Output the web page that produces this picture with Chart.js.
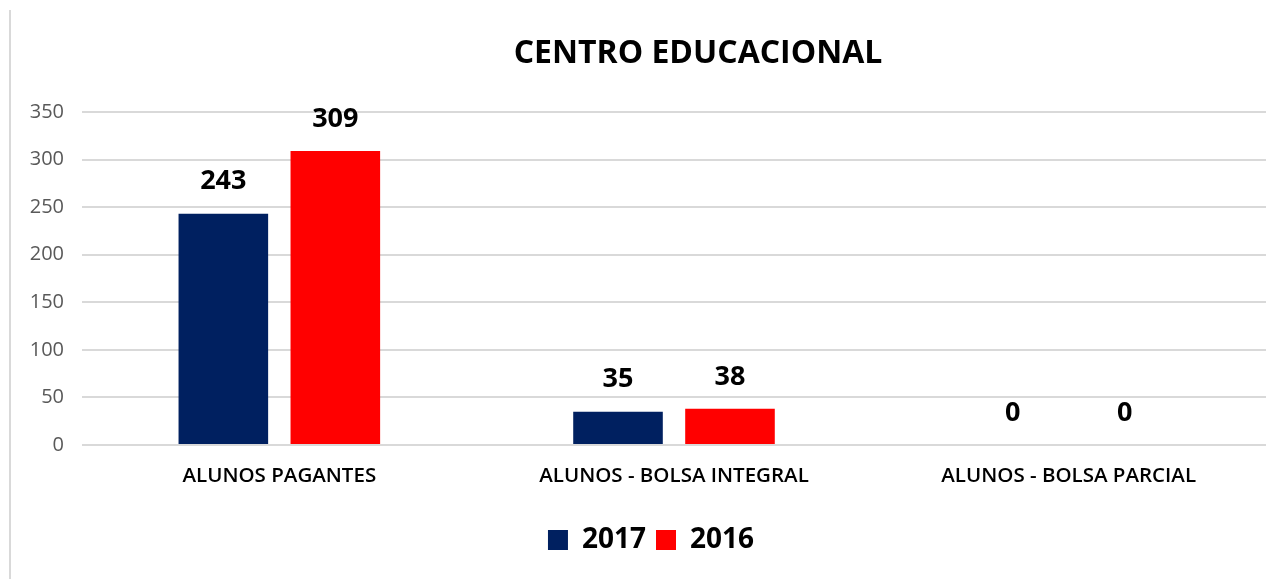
<!DOCTYPE html>
<html><head><meta charset="utf-8">
<script src="https://cdn.jsdelivr.net/npm/chart.js@4/dist/chart.umd.min.js"></script>
<style>html,body{margin:0;padding:0;background:#fff}#wrap{width:1286px;height:579px;position:relative}</style>
</head><body><div id="wrap"><canvas id="c" width="1286" height="579"></canvas></div>
<script>
const categories = ["ALUNOS PAGANTES", "ALUNOS - BOLSA INTEGRAL", "ALUNOS - BOLSA PARCIAL"];
const series2017 = [243, 35, 0];
const series2016 = [309, 38, 0];
const yTicks = [0, 50, 100, 150, 200, 250, 300, 350];
const titleText = "CENTRO EDUCACIONAL";

const extras = {
  id: 'extras',
  afterLayout(chart) {
    if (chart.legend) { chart.legend.left += 13; chart.legend.right += 13; }
  },
  afterDraw(chart) {
    const ctx = chart.ctx;
    ctx.save();
    ctx.strokeStyle = '#d9d9d9'; ctx.lineWidth = 2;
    ctx.beginPath(); ctx.moveTo(10, 10); ctx.lineTo(10, 579); ctx.stroke();
    ctx.fillStyle = '#000';
    ctx.font = 'bold 32px "Open Sans"';
    ctx.textAlign = 'center'; ctx.textBaseline = 'middle';
    ctx.fillText(titleText, 698, 54);
    ctx.font = 'bold 27px "Open Sans"';
    chart.data.datasets.forEach((ds, i) => {
      const meta = chart.getDatasetMeta(i);
      meta.data.forEach((bar, j) => {
        ctx.fillText(String(ds.data[j]), bar.x, bar.y - 32);
      });
    });
    ctx.restore();
  }
};

new Chart(document.getElementById('c'), {
  type: 'bar',
  data: {
    labels: categories,
    datasets: [
      { label: '2017', data: series2017, backgroundColor: '#002060', categoryPercentage: 0.5675, barPercentage: 0.8 },
      { label: '2016', data: series2016, backgroundColor: '#ff0000', categoryPercentage: 0.5675, barPercentage: 0.8 }
    ]
  },
  options: {
    responsive: false,
    animation: false,
    layout: { padding: { left: 10, right: 20, top: 112, bottom: 15 } },
    plugins: {
      legend: {
        position: 'bottom',
        labels: { font: { family: '"Open Sans"', size: 28, weight: 'bold' }, color: '#000', boxWidth: 20, boxHeight: 20, padding: 10 },
      },
      tooltip: { enabled: false },
      title: { display: false }
    },
    scales: {
      x: {
        grid: { display: false },
        border: { display: false },
        afterFit(scale) { scale.height = 71; },
        ticks: { font: { family: '"Open Sans"', size: 20.5, weight: '600' }, color: '#000', padding: 11 }
      },
      y: {
        min: 0, max: 350,
        afterBuildTicks(scale) { scale.ticks = yTicks.map(v => ({ value: v })); },
        afterFit(scale) { scale.width = 72; },
        grid: { color: '#d9d9d9', lineWidth: 2, drawTicks: false },
        border: { display: false },
        ticks: { font: { family: '"Open Sans"', size: 20 }, color: '#595959', padding: 18 }
      }
    }
  },
  plugins: [extras]
});
</script></body></html>
